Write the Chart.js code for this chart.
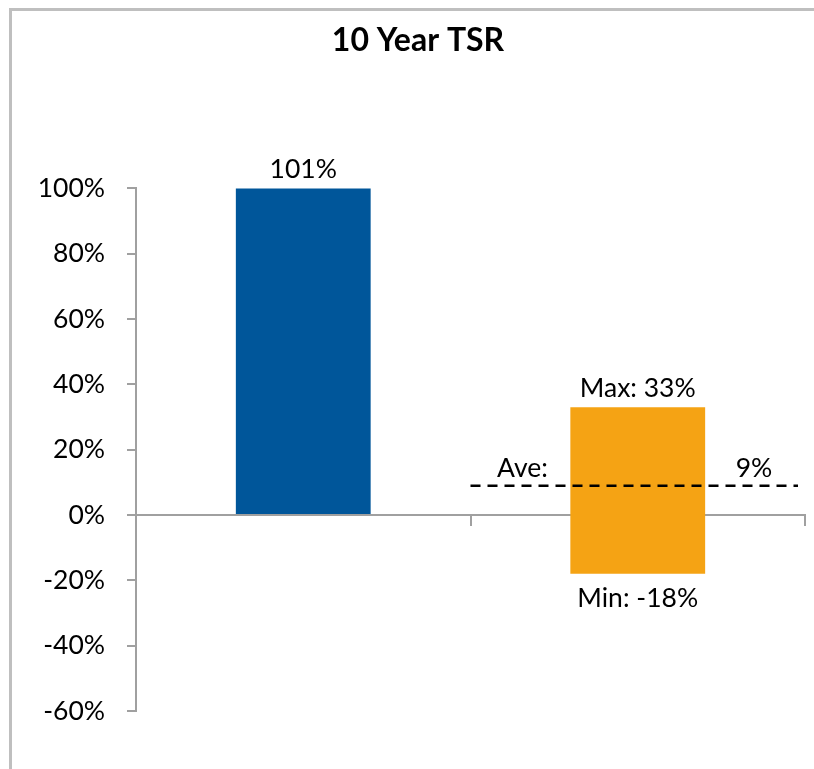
<!DOCTYPE html>
<html>
<head>
<meta charset="utf-8">
<script src="https://cdn.jsdelivr.net/npm/chart.js@4/dist/chart.umd.min.js"></script>
<style>
  html, body { margin: 0; padding: 0; background: #fff; }
  #wrap { position: relative; width: 814px; height: 769px; }
  #frame { position: absolute; left: 9px; top: 8px; right: 0; bottom: 0;
           border-left: 3px solid #bfbfbf; border-top: 3px solid #bfbfbf; pointer-events: none; }
</style>
</head>
<body>
<div id="wrap">
  <canvas id="tsr" width="814" height="769"></canvas>
  <div id="frame"></div>
</div>
<script>
// data
const categories = ['Company', 'Peers'];
const barLow = [0, -18];
const barHigh = [101, 33];
const topLabels = ['101%', 'Max: 33%'];
const bottomLabels = ['', 'Min: -18%'];
const peerAverage = 9;
const averageLabel = 'Ave:';
const averageValue = '9%';
const yMin = -60, yMax = 100, yStep = 20;

const FONT = 'Lato';
const axisGrey = '#a0a0a0';

// data labels + dashed average line
const tsrLabels = {
  id: 'tsrLabels',
  afterDraw(chart) {
    const ctx = chart.ctx;
    const x = chart.scales.x, y = chart.scales.y;
    const area = chart.chartArea;
    const bars = chart.getDatasetMeta(0).data;
    ctx.save();
    ctx.font = '26.5px ' + FONT;
    ctx.fillStyle = '#000';
    ctx.textAlign = 'center';
    ctx.textBaseline = 'alphabetic';
    bars.forEach((bar, i) => {
      const top = Math.max(y.getPixelForValue(barHigh[i]), area.top);
      const bottom = y.getPixelForValue(barLow[i]);
      if (topLabels[i]) ctx.fillText(topLabels[i], bar.x, top - 10);
      if (bottomLabels[i]) ctx.fillText(bottomLabels[i], bar.x, bottom + 33);
    });

    const ya = y.getPixelForValue(peerAverage);
    const xStart = x.getPixelForValue(0.5);
    ctx.fillText(averageLabel, xStart + 52, ya - 9);
    ctx.fillText(averageValue, x.right - 51, ya - 9);

    ctx.setLineDash([10, 7]);
    ctx.lineWidth = 2.5;
    ctx.strokeStyle = '#000';
    ctx.beginPath();
    ctx.moveTo(xStart, ya);
    ctx.lineTo(x.right - 7, ya);
    ctx.stroke();
    ctx.restore();
  }
};

new Chart(document.getElementById('tsr').getContext('2d'), {
  type: 'bar',
  data: {
    labels: categories,
    datasets: [{
      data: categories.map((c, i) => [barLow[i], barHigh[i]]),
      backgroundColor: ['#00569a', '#f5a314'],
      borderWidth: 0,
      barPercentage: 1,
      categoryPercentage: 0.403,
      clip: 0
    }]
  },
  options: {
    responsive: false,
    animation: false,
    layout: { padding: { left: 31, right: 9, top: 0, bottom: 58 } },
    scales: {
      x: {
        type: 'category',
        position: { y: 0 },
        offset: true,
        z: 1,
        ticks: { display: false },
        grid: { offset: true, drawOnChartArea: false, tickLength: 10, color: axisGrey, lineWidth: 2 },
        border: { color: axisGrey, width: 2 }
      },
      y: {
        min: yMin,
        max: yMax,
        ticks: {
          stepSize: yStep,
          padding: 22,
          color: '#000',
          font: { family: FONT, size: 26.5 },
          callback: v => v + '%'
        },
        grid: { drawOnChartArea: false, tickLength: 9, color: axisGrey, lineWidth: 2 },
        border: { color: axisGrey, width: 2 },
        afterFit: s => { s.width = 105; }
      }
    },
    plugins: {
      legend: { display: false },
      tooltip: { enabled: false },
      title: {
        display: true,
        text: '10 Year TSR',
        color: '#000',
        font: { family: FONT, size: 32, weight: 'bold' },
        padding: { top: 21, bottom: 129 }
      }
    }
  },
  plugins: [tsrLabels]
});
</script>
</body>
</html>
